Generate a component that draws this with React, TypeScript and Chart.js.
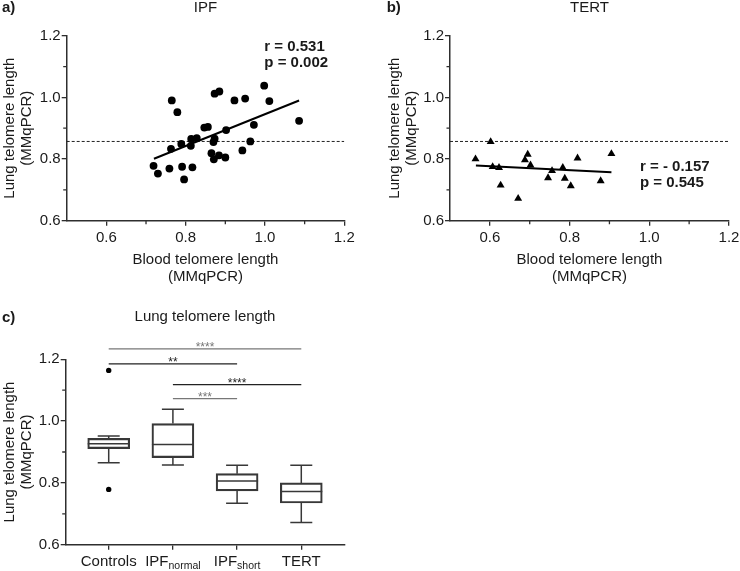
import React, { useEffect, useRef } from 'react';
import { Chart, registerables } from 'chart.js';

Chart.register(...registerables);

// ---------- data ----------
// Panel a: IPF
const ipfBlood = [0.719, 0.730, 0.759, 0.765, 0.779, 0.763, 0.789, 0.791, 0.796, 0.817, 0.813, 0.814, 0.828, 0.847, 0.856, 0.873, 0.885, 0.870, 0.873, 0.865, 0.871, 0.884, 0.900, 0.902, 0.923, 0.950, 0.972, 0.963, 0.943, 0.998, 1.011, 1.086];
const ipfLung = [0.778, 0.753, 0.769, 0.990, 0.952, 0.833, 0.849, 0.775, 0.734, 0.773, 0.843, 0.865, 0.868, 0.902, 0.904, 1.012, 1.019, 0.855, 0.866, 0.819, 0.799, 0.812, 0.805, 0.894, 0.990, 0.996, 0.911, 0.857, 0.828, 1.038, 0.988, 0.924];
const ipfFitX = [0.72, 1.086];
const ipfFitY = [0.801, 0.99];
const ipfStats = ['r = 0.531', 'p = 0.002'];

// Panel b: TERT
const tertBlood = [0.564, 0.602, 0.607, 0.623, 0.627, 0.671, 0.688, 0.695, 0.702, 0.746, 0.756, 0.783, 0.788, 0.803, 0.820, 0.878, 0.905];
const tertLung = [0.800, 0.856, 0.775, 0.772, 0.715, 0.672, 0.797, 0.815, 0.780, 0.739, 0.762, 0.772, 0.737, 0.713, 0.803, 0.729, 0.817];
const tertFitX = [0.565, 0.905];
const tertFitY = [0.779, 0.757];
const tertStats = ['r = - 0.157', 'p = 0.545'];

// Reference (dashed) level
const refLevel = 0.857;
const refX = [0.5, 1.2];

// Panel c: box plots
const boxCats = ['Controls', 'IPF', 'IPF', 'TERT'];
const boxSubs = ['', 'normal', 'short', ''];
const boxMin = [0.865, 0.858, 0.734, 0.672];
const boxQ1 = [0.911, 0.882, 0.774, 0.735];
const boxMedian = [0.927, 0.924, 0.806, 0.772];
const boxQ3 = [0.944, 0.992, 0.830, 0.800];
const boxMax = [0.952, 1.038, 0.857, 0.857];
const outlierCat = [0, 0];
const outlierVal = [1.164, 0.779];

// Significance brackets
const bracketFrom = [0, 0, 1, 1];
const bracketTo = [3, 2, 3, 2];
const bracketLevel = [1.234, 1.185, 1.118, 1.073];
const bracketLabel = ['****', '**', '****', '***'];

// Axis / titles
const yTitle = ['Lung telomere length', '(MMqPCR)'];
const xTitle = ['Blood telomere length', '(MMqPCR)'];
const panelTitles = ['IPF', 'TERT', 'Lung telomere length'];
const panelLetters = ['a)', 'b)', 'c)'];

// ---------- styles ----------
const FONT = "'Liberation Sans', Arial, Helvetica, sans-serif";
const TEXT = '#1a1a1a';
const AXIS = '#2e2e2e';
const BOX = '#383838';
const bracketColors = ['#777777', '#222222', '#222222', '#777777'];
const NONE = 'rgba(0,0,0,0)';

const isMajor = (v: any) => Math.round(Number(v) * 10) % 2 === 0;
const tenthLabel = (v: any) => (isMajor(v) ? (Math.round(Number(v) * 10) / 10).toFixed(1) : '');
const majorTickColor = (c: any) => (c.tick && isMajor(c.tick.value) ? AXIS : NONE);

// draws shorter minor ticks (odd tenths) through the scales' own tick lists
const minorTicks = {
  id: 'minorTicks',
  afterDraw(chart: any) {
    const ctx = chart.ctx;
    ctx.save();
    ctx.strokeStyle = AXIS;
    ctx.lineWidth = 1.3;
    ctx.beginPath();
    Object.values(chart.scales).forEach((s: any) => {
      if (!s.options.minorTicks) return;
      s.ticks.forEach((t: any) => {
        if (isMajor(t.value)) return;
        if (Math.abs(t.value - s.min) < 1e-9) return;
        const p = s.getPixelForValue(t.value);
        if (s.isHorizontal()) {
          ctx.moveTo(p, s.top);
          ctx.lineTo(p, s.top + 3.5);
        } else {
          ctx.moveTo(s.right, p);
          ctx.lineTo(s.right - 3.5, p);
        }
      });
    });
    ctx.stroke();
    ctx.restore();
  },
};

function yScale(width: number, titlePad: number) {
  return {
    type: 'linear',
    position: 'left',
    min: 0.6,
    max: 1.2,
    minorTicks: true,
    afterFit: (s: any) => {
      s.width = width;
      s.paddingTop = 0;
      s.paddingBottom = 0;
    },
    ticks: { stepSize: 0.1, callback: tenthLabel, color: TEXT, font: { family: FONT, size: 15 }, padding: 1, autoSkip: false },
    grid: { display: true, drawOnChartArea: false, drawTicks: true, tickLength: 5, color: AXIS, tickColor: majorTickColor, lineWidth: 1.3 },
    border: { display: true, color: AXIS, width: 1.5 },
    title: {
      display: true,
      text: yTitle,
      color: TEXT,
      font: { family: FONT, size: 15, lineHeight: 1.13 },
      padding: { top: titlePad, bottom: 0 },
    },
  };
}

function xScaleScatter(height: number) {
  return {
    type: 'linear',
    position: 'bottom',
    min: 0.5,
    max: 1.2,
    minorTicks: true,
    afterFit: (s: any) => {
      s.height = height;
      s.paddingLeft = 0;
      s.paddingRight = 0;
    },
    ticks: { stepSize: 0.1, callback: tenthLabel, color: TEXT, font: { family: FONT, size: 15 }, padding: 3, autoSkip: false, maxRotation: 0 },
    grid: { display: true, drawOnChartArea: false, drawTicks: true, tickLength: 5, color: AXIS, tickColor: majorTickColor, lineWidth: 1.3 },
    border: { display: true, color: AXIS, width: 1.5 },
    title: {
      display: true,
      text: xTitle,
      color: TEXT,
      font: { family: FONT, size: 15, lineHeight: 1.13 },
      padding: { top: 0, bottom: 4.5 },
    },
  };
}

function textPlugin(id: string, letter: string, letterX: number, title: string, titleY: number, stats: string[], statX: number, statY: number[]) {
  return {
    id,
    afterDraw(chart: any) {
      const ctx = chart.ctx;
      const ca = chart.chartArea;
      ctx.save();
      ctx.fillStyle = TEXT;
      ctx.textBaseline = 'middle';
      ctx.font = `bold 15px ${FONT}`;
      ctx.textAlign = 'left';
      ctx.fillText(letter, letterX, titleY);
      ctx.font = `15px ${FONT}`;
      ctx.textAlign = 'center';
      ctx.fillText(title, (ca.left + ca.right) / 2, titleY);
      ctx.font = `bold 15px ${FONT}`;
      ctx.textAlign = 'left';
      stats.forEach((s, i) => ctx.fillText(s, statX, statY[i]));
      ctx.restore();
    },
  };
}

function scatterConfig(xs: number[], ys: number[], fitX: number[], fitY: number[], pointStyle: string, radius: number, yWidth: number, yTitlePad: number, padRight: number, plugin: any) {
  return {
    type: 'scatter',
    data: {
      datasets: [
        {
          type: 'scatter',
          data: xs.map((x, i) => ({ x, y: ys[i] })),
          pointStyle,
          pointRadius: radius,
          pointHoverRadius: radius,
          backgroundColor: '#000',
          borderColor: '#000',
          borderWidth: 0,
        },
        {
          type: 'line',
          data: fitX.map((x, i) => ({ x, y: fitY[i] })),
          borderColor: '#000',
          borderWidth: 2,
          pointRadius: 0,
          fill: false,
        },
        {
          type: 'line',
          data: refX.map((x) => ({ x, y: refLevel })),
          borderColor: '#222',
          borderWidth: 1,
          borderDash: [3, 2],
          pointRadius: 0,
          fill: false,
        },
      ],
    },
    options: {
      animation: false,
      responsive: false,
      events: [],
      layout: { padding: { top: 35.7, right: padRight, bottom: 0, left: 0 } },
      plugins: { legend: { display: false }, tooltip: { enabled: false }, title: { display: false } },
      scales: { x: xScaleScatter(69.3), y: yScale(yWidth, yTitlePad) },
    },
    plugins: [plugin, minorTicks],
  };
}

const boxPlugin = {
  id: 'boxExtras',
  afterDatasetsDraw(chart: any) {
    const ctx = chart.ctx;
    const xs = chart.scales.x;
    const ys = chart.scales.y;
    const half = 21;
    const cap = 11;
    ctx.save();
    ctx.strokeStyle = BOX;
    ctx.lineWidth = 1.5;
    ctx.beginPath();
    boxCats.forEach((_, i) => {
      const px = xs.getPixelForValue(i);
      const yMax = ys.getPixelForValue(boxMax[i]);
      const yQ3 = ys.getPixelForValue(boxQ3[i]);
      const yQ1 = ys.getPixelForValue(boxQ1[i]);
      const yMin = ys.getPixelForValue(boxMin[i]);
      const yMed = ys.getPixelForValue(boxMedian[i]);
      ctx.moveTo(px, yQ3); ctx.lineTo(px, yMax);
      ctx.moveTo(px - cap, yMax); ctx.lineTo(px + cap, yMax);
      ctx.moveTo(px, yQ1); ctx.lineTo(px, yMin);
      ctx.moveTo(px - cap, yMin); ctx.lineTo(px + cap, yMin);
      ctx.moveTo(px - half, yMed); ctx.lineTo(px + half, yMed);
    });
    ctx.stroke();
    ctx.restore();
  },
  afterDraw(chart: any) {
    const ctx = chart.ctx;
    const xs = chart.scales.x;
    const ys = chart.scales.y;
    const ca = chart.chartArea;
    ctx.save();
    // brackets
    bracketLabel.forEach((lab, k) => {
      const x1 = xs.getPixelForValue(bracketFrom[k]);
      const x2 = xs.getPixelForValue(bracketTo[k]);
      const yy = ys.getPixelForValue(bracketLevel[k]);
      ctx.strokeStyle = bracketColors[k];
      ctx.lineWidth = 1.3;
      ctx.beginPath();
      ctx.moveTo(x1, yy);
      ctx.lineTo(x2, yy);
      ctx.stroke();
      ctx.fillStyle = bracketColors[k];
      ctx.font = `12px ${FONT}`;
      ctx.textAlign = 'center';
      ctx.textBaseline = 'alphabetic';
      ctx.fillText(lab, (x1 + x2) / 2, yy + 2);
    });
    // category labels with subscripts
    ctx.fillStyle = TEXT;
    ctx.textAlign = 'left';
    ctx.textBaseline = 'alphabetic';
    boxCats.forEach((main, i) => {
      const px = xs.getPixelForValue(i);
      ctx.font = `15px ${FONT}`;
      const w1 = ctx.measureText(main).width;
      ctx.font = `10.5px ${FONT}`;
      const w2 = boxSubs[i] ? ctx.measureText(boxSubs[i]).width : 0;
      const start = px - (w1 + w2) / 2;
      ctx.font = `15px ${FONT}`;
      ctx.fillText(main, start, ca.bottom + 21);
      if (boxSubs[i]) {
        ctx.font = `10.5px ${FONT}`;
        ctx.fillText(boxSubs[i], start + w1, ca.bottom + 24.5);
      }
    });
    // panel letter and title
    ctx.textBaseline = 'middle';
    ctx.font = `bold 15px ${FONT}`;
    ctx.fillText(panelLetters[2], 2, 28);
    ctx.font = `15px ${FONT}`;
    ctx.textAlign = 'center';
    ctx.fillText(panelTitles[2], (ca.left + ca.right) / 2, 27);
    ctx.restore();
  },
};

function boxConfig() {
  return {
    type: 'bar',
    data: {
      datasets: [
        {
          type: 'bar',
          data: boxQ1.map((q1, i) => ({ x: i, y: [q1, boxQ3[i]] })),
          barThickness: 42,
          backgroundColor: 'rgba(255,255,255,0)',
          borderColor: BOX,
          borderWidth: 1.5,
          borderSkipped: false,
        },
        {
          type: 'scatter',
          data: outlierCat.map((c, i) => ({ x: c, y: outlierVal[i] })),
          pointRadius: 2.7,
          pointHoverRadius: 2.7,
          backgroundColor: '#000',
          borderWidth: 0,
          clip: false,
        },
      ],
    },
    options: {
      animation: false,
      responsive: false,
      events: [],
      layout: { padding: { top: 69.3, right: 25.7, bottom: 0, left: 0 } },
      plugins: { legend: { display: false }, tooltip: { enabled: false }, title: { display: false } },
      scales: {
        x: {
          type: 'linear',
          position: 'bottom',
          min: -0.67,
          max: 3.67,
          offset: false,
          afterBuildTicks: (s: any) => {
            s.ticks = boxCats.map((_, i) => ({ value: i }));
          },
          afterFit: (s: any) => {
            s.height = 26.3;
            s.paddingLeft = 0;
            s.paddingRight = 0;
          },
          ticks: { callback: () => '', autoSkip: false, maxRotation: 0 },
          grid: { display: true, offset: false, drawOnChartArea: false, drawTicks: true, tickLength: 5, color: AXIS, lineWidth: 1.3 },
          border: { display: true, color: AXIS, width: 1.5 },
        },
        y: yScale(65.7, 1.5),
      },
    },
    plugins: [boxPlugin, minorTicks],
  };
}

export default function App() {
  const refA = useRef<HTMLCanvasElement>(null);
  const refB = useRef<HTMLCanvasElement>(null);
  const refC = useRef<HTMLCanvasElement>(null);

  useEffect(() => {
    Chart.defaults.color = TEXT;
    Chart.defaults.font.family = FONT;
    const pa = textPlugin('txtA', panelLetters[0], 2, panelTitles[0], 8.3, ipfStats, 264.3, [46.7, 63.3]);
    const pb = textPlugin('txtB', panelLetters[1], 16.7, panelTitles[1], 8.3, tertStats, 270, [167.3, 183.3]);
    const ca = new Chart(refA.current as any, scatterConfig(ipfBlood, ipfLung, ipfFitX, ipfFitY, 'circle', 3.9, 66.7, 1, 25.7, pa) as any);
    const cb = new Chart(refB.current as any, scatterConfig(tertBlood, tertLung, tertFitX, tertFitY, 'triangle', 4.6, 80, 16.5, 11, pb) as any);
    const cc = new Chart(refC.current as any, boxConfig() as any);
    return () => {
      ca.destroy();
      cb.destroy();
      cc.destroy();
    };
  }, []);

  return (
    <div style={{ position: 'absolute', left: 0, top: 0, width: 740, height: 571, background: '#fff' }}>
      <canvas ref={refA} width={370} height={290} style={{ position: 'absolute', left: 0, top: 0 }} />
      <canvas ref={refB} width={370} height={290} style={{ position: 'absolute', left: 370, top: 0 }} />
      <canvas ref={refC} width={370} height={281} style={{ position: 'absolute', left: 0, top: 290 }} />
    </div>
  );
}
